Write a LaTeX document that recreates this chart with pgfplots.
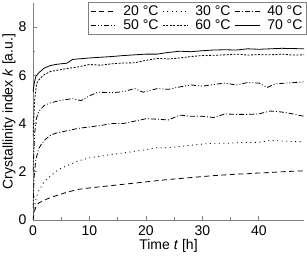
\documentclass[border=0pt]{standalone}
\usepackage{fontspec}
\setmainfont{Liberation Sans}
\usepackage{pgfplots}
\pgfplotsset{compat=1.18}
\begin{document}
\begin{tikzpicture}
\begin{axis}[
  name=ax,
  scale only axis, width=271pt, height=217pt,
  xmin=0, xmax=48, ymin=0, ymax=9,
  xtick={0,10,20,30,40}, ytick={0,2,4,6,8},
  minor x tick num=1, minor y tick num=1,
  axis x line*=bottom, axis y line*=left,
  axis line style={-, gray, line width=0.9pt},
  tick style={gray, line width=0.7pt},
  major tick length=4pt, minor tick length=2.5pt,
  tick align=inside,
  /pgf/number format/assume math mode=true,
  font=\fontsize{14}{16}\selectfont,
  xticklabel style={yshift=-2pt},
  yticklabel style={xshift=-3pt},
  xlabel={Time \textit{t} [h]},
  ylabel={Crystallinity index \textit{k} [a.u.]},
  xlabel style={at={(axis description cs:0.5,0)}, anchor=base, yshift=-30pt},
  ylabel style={at={(axis description cs:-0.0886,0.5)}, anchor=center, rotate=0},
  legend columns=3,
  legend style={at={(1.01,1.003)}, anchor=north east, draw=gray, line width=0.5pt,
    font=\fontsize{14}{16}\selectfont, inner xsep=2pt, inner ysep=1pt,
    row sep=-1pt,
    /tikz/every odd column/.append style={column sep=5pt},
    /tikz/every even column/.append style={column sep=2pt}},
  legend cell align=left,
  legend image code/.code={\draw[#1] (0pt,0pt) -- (25pt,0pt);},
  every axis plot/.append style={black, line width=0.8pt},
]
\addplot[dash pattern=on 5pt off 3.5pt] coordinates {
(0,0.0)(0.3,0.4)(0.6,0.6)(1,0.7)(2,0.82)(3,0.92)(4,1.0)(6,1.15)(8,1.27)(10,1.33)(12,1.38)(14,1.43)(16,1.48)(18,1.53)(20,1.58)(22,1.63)(24,1.68)(26,1.72)(28,1.76)(30,1.8)(32,1.84)(34,1.87)(36,1.9)(38,1.92)(40,1.95)(42,1.97)(44,2.0)(46,2.02)(48,2.04)};
\addlegendentry{20 °C}
\addplot[dash pattern=on 1pt off 3.5pt] coordinates {
(0,0.1)(0.3,0.6)(0.6,0.95)(1,1.2)(2,1.6)(3,1.8)(4,2.0)(5,2.15)(6,2.25)(8,2.45)(10,2.58)(12,2.65)(14,2.72)(16,2.78)(18,2.85)(20,2.92)(22,3.0)(24,3.0)(26,3.05)(28,3.1)(30,3.15)(32,3.18)(34,3.18)(36,3.2)(38,3.22)(40,3.22)(42,3.3)(44,3.28)(46,3.25)(48,3.25)};
\addlegendentry{30 °C}
\addplot[dash pattern=on 5pt off 2pt on 1pt off 2pt] coordinates {
(0,0.5)(0.2,1.8)(0.5,2.5)(1,2.95)(1.5,3.15)(2,3.3)(3,3.5)(4,3.6)(6,3.7)(8,3.8)(10,3.86)(12,3.92)(14,4.0)(16,4.0)(18,4.1)(20,4.2)(22,4.18)(24,4.15)(26,4.35)(28,4.3)(30,4.3)(32,4.25)(34,4.4)(36,4.38)(38,4.38)(40,4.4)(42,4.52)(44,4.48)(46,4.4)(48,4.3)};
\addlegendentry{40 °C}
\addplot[dash pattern=on 5pt off 2pt on 1pt off 2pt on 1pt off 2pt] coordinates {
(0,2.0)(0.3,3.6)(0.6,4.2)(1,4.5)(2,4.75)(3,4.85)(5,4.97)(7,5.03)(8.5,4.95)(10,5.15)(11.5,5.3)(14,5.28)(16,5.32)(18,5.45)(19.5,5.3)(22,5.45)(24,5.42)(26,5.52)(28,5.6)(30,5.55)(32,5.62)(34,5.68)(36,5.6)(38,5.7)(40,5.68)(41.5,5.5)(43,5.65)(45,5.68)(48,5.73)};
\addlegendentry{50 °C}
\addplot[dash pattern=on 2pt off 1.5pt] coordinates {
(0,3.5)(0.3,5.0)(0.65,5.66)(1,5.8)(1.8,6.0)(3,6.15)(4,6.2)(6,6.28)(8,6.35)(10,6.45)(12,6.42)(14,6.48)(16,6.51)(18,6.52)(20,6.62)(22,6.7)(24,6.68)(26,6.72)(28,6.78)(30,6.82)(32,6.83)(34,6.85)(36,6.88)(38,6.84)(40,6.86)(42,6.85)(44,6.88)(46,6.84)(48,6.85)};
\addlegendentry{60 °C}
\addplot[solid] coordinates {
(0,5.3)(0.25,5.7)(0.5,5.95)(1,6.1)(1.5,6.2)(2,6.3)(3,6.4)(4,6.45)(5,6.48)(6,6.5)(7,6.66)(8,6.68)(10,6.72)(12,6.75)(14,6.78)(16,6.82)(18,6.85)(20,6.88)(22,6.88)(24,6.95)(26,7.0)(28,6.98)(30,7.02)(32,7.05)(34,7.06)(36,7.05)(38,7.1)(40,7.08)(42,7.1)(44,7.12)(46,7.11)(48,7.1)};
\addlegendentry{70 °C}
\end{axis}
\pgfresetboundingbox
\path[use as bounding box] ([shift={(-33pt,-45pt)}]ax.south west) rectangle ([shift={(3pt,3pt)}]ax.north east);
\end{tikzpicture}
\end{document}
